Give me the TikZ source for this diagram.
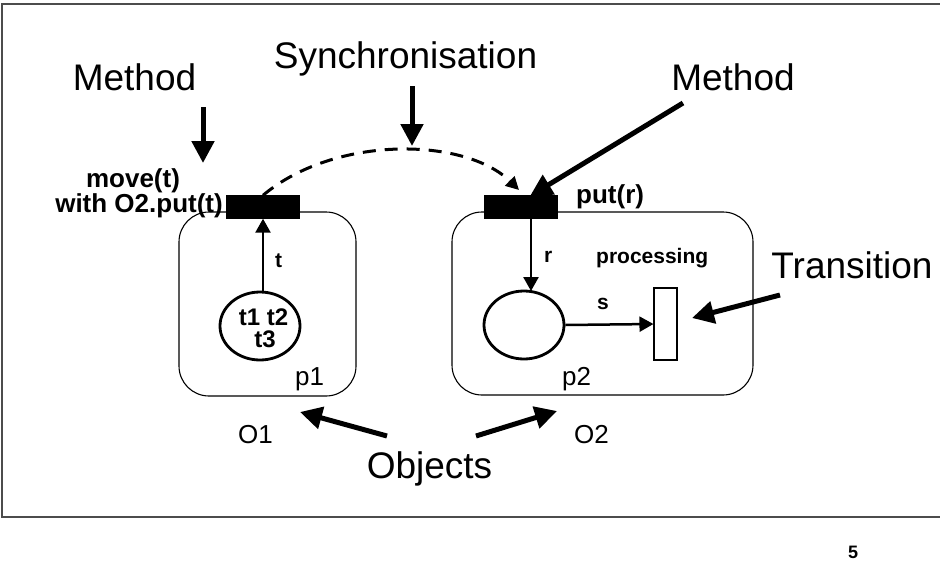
\documentclass[tikz,border=0pt]{standalone}
\usepackage{fontspec}
\setmainfont{Liberation Sans}
\usetikzlibrary{arrows.meta,shapes.geometric}
\begin{document}
\begin{tikzpicture}[x=1pt,y=-1pt,
  big/.style={font=\fontsize{37}{40}\selectfont, inner sep=0pt, anchor=base},
  small/.style={font=\fontsize{26}{28}\selectfont, inner sep=0pt, anchor=base west},
  blab/.style={font=\fontsize{21}{21}\selectfont\bfseries, inner sep=0pt, anchor=base west},
  bmeth/.style={font=\fontsize{26}{25}\selectfont\bfseries, inner sep=0pt},
  fatarrow/.style={line width=5pt, -{Triangle[length=22pt,width=22pt]}},
  thinarrow/.style={line width=2.5pt, -{Triangle[length=14pt,width=15pt]}},
  objbox/.style={draw, line width=1.1pt, rounded corners=30pt},
  bar/.style={fill=black, draw=black, minimum width=73pt, minimum height=23pt, inner sep=0pt},
  place/.style={draw, line width=2.8pt, ellipse, minimum width=80pt, minimum height=68pt, inner sep=0pt},
]
\useasboundingbox (0,0) rectangle (940,560);
\fill[white] (0,0) rectangle (940,560);
% frame
\draw[line width=1.4pt, black!70] (940,4) -- (2,4) -- (2,517) -- (940,517);

% object boxes
\draw[objbox] (179,212) rectangle (356,396);
\draw[objbox] (452,212) rectangle (753,395);

% transitions (bars)
\node[bar] (lbar) at (263,207) {};
\node[bar] (rbar) at (521,207) {};

% places
\node[place] (pl1) at (260,326) {};
\node[place] (pl2) at (524,325) {};
\node[font=\fontsize{24}{24}\selectfont\bfseries, inner sep=0pt, anchor=base] (tok12) at (263.5,325) {t1 t2};
\node[font=\fontsize{24}{24}\selectfont\bfseries, inner sep=0pt, anchor=base] (tok3) at (265,347) {t3};

% internal transition
\node[draw, line width=1.1pt, minimum width=23pt, minimum height=72pt, inner sep=0pt] (tr) at (665.5,324) {};

% arcs
\coordinate (ta) at (263,293);
\coordinate (ra) at (531,291);
\draw[thinarrow] (ta) -- (lbar.south -| ta);
\draw[thinarrow] (rbar.south -| ra) -- (ra);
\draw[thinarrow] (pl2.east) -- (tr.west);

% arc labels
\node[blab] (lt) at (275,267) {t};
\node[blab] (lr) at (544,262) {r};
\node[blab] (ls) at (597,309) {s};
\node[blab] (lproc) at (596,263) {processing};

% names
\node[small] (p1) at (295,385) {p1};
\node[small] (p2) at (562,385) {p2};
\node[small] (o1) at (238,443) {O1};
\node[small] (o2) at (574,443) {O2};

% method labels
\node[bmeth, anchor=base] (mvt) at (133,187) {move(t)};
\node[bmeth, anchor=base east] (wth) at (223,212) {with O2.put(t)};
\node[bmeth, anchor=base west] (putr) at (576,203) {put(r)};

% big labels
\node[big] (meth1) at (134.5,90) {Method};
\node[big] (sync) at (405.5,68) {Synchronisation};
\node[big] (meth2) at (733,90) {Method};
\node[big] (trans) at (852,278) {Transition};
\node[big] (objs) at (429.5,478) {Objects};

% pointer arrows
\coordinate (m1s) at (203,107);
\coordinate (m1e) at (203,163);
\coordinate (sys) at (412,86);
\coordinate (sye) at (412,146);
\coordinate (m2s) at (683,103);
\coordinate (m2e) at (530,196);
\coordinate (trs) at (780,295);
\coordinate (trt) at (692,318);
\coordinate (obl) at (387,436);
\coordinate (obr) at (476,436);
\coordinate (o1t) at (300,412);
\coordinate (o2t) at (557,411);
\draw[fatarrow] (m1s) -- (m1e);
\draw[fatarrow] (sys) -- (sye);
\draw[fatarrow] (m2s) -- (m2e);
\draw[fatarrow] (trs) -- (trt);
\draw[fatarrow] (obl) -- (o1t);
\draw[fatarrow] (obr) -- (o2t);

% synchronisation dashed arc
\coordinate (sy2) at (519,190);
\draw[line width=3pt, dash pattern=on 13pt off 9pt, -{Triangle[length=13pt,width=13pt]}]
  (lbar.north) .. controls (335,135) and (465,137) .. (sy2);

% page number
\node[font=\fontsize{18}{18}\selectfont\bfseries, inner sep=0pt, anchor=base] (pg) at (853,558) {5};
\end{tikzpicture}
\end{document}
